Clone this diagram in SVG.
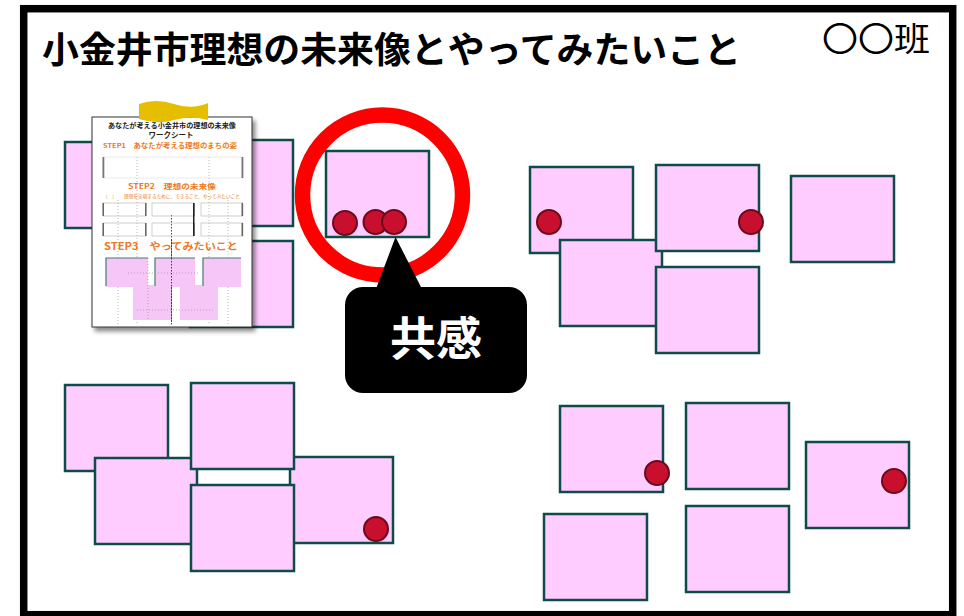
<svg xmlns="http://www.w3.org/2000/svg" width="964" height="616" viewBox="0 0 964 616">
<style>
.note{fill:#FFCCFF;stroke:#0F4B48;stroke-width:2.5}
.dot{fill:#C8102E;stroke:#6A0A1A;stroke-width:2}
.jp{font-family:"Noto Sans CJK JP","Noto Sans",sans-serif}
.or{fill:#F07820}
.grid{stroke:#9a9a9a;stroke-width:0.7;stroke-dasharray:1 2;fill:none}
.pk{fill:#F6C6F6}
</style>
<defs>
<filter id="sh" x="-10%" y="-10%" width="130%" height="130%">
<feDropShadow dx="3" dy="4" stdDeviation="2.2" flood-color="#000" flood-opacity="0.45"/>
</filter>
</defs>
<rect width="964" height="616" fill="#fff"/>
<rect id="frame" x="23.7" y="8.7" width="929" height="606" fill="none" stroke="#000" stroke-width="7.5"/>
<g id="title">
<text class="jp" x="42" y="63" font-size="36.5" font-weight="bold" fill="#000" textLength="699" lengthAdjust="spacingAndGlyphs">小金井市理想の未来像とやってみたいこと</text>
</g>
<g id="group-name">
<text class="jp" x="822" y="51" font-size="33" fill="#000" textLength="108" lengthAdjust="spacingAndGlyphs">〇〇班</text>
</g>

<g id="cluster-topleft">
<g id="note-q"><rect class="note" x="65" y="142" width="103" height="86"/></g>
<g id="note-r"><rect class="note" x="190" y="140" width="103" height="86"/></g>
<g id="note-s"><rect class="note" x="190" y="241" width="103" height="86"/></g>
</g>

<g id="worksheet">
<rect x="92" y="117" width="160" height="210" fill="#fff" stroke="#333" stroke-width="1" filter="url(#sh)"/>
<path class="grid" d="M137,157V325 M209,157V325 M118,200V325 M228,200V325"/>
<path d="M171.5,215V325" stroke="#333" stroke-width="0.9" stroke-dasharray="1.5 1.5" fill="none"/>
<text class="jp" x="172" y="128" font-size="6.5" font-weight="bold" fill="#222" text-anchor="middle" textLength="128" lengthAdjust="spacingAndGlyphs">あなたが考える小金井市の理想の未来像</text>
<text class="jp" x="171" y="138" font-size="7.5" font-weight="bold" fill="#222" text-anchor="middle">ワークシート</text>
<text class="jp or" x="103" y="148" font-size="6.3" font-weight="bold" textLength="134" lengthAdjust="spacingAndGlyphs">STEP1　あなたが考える理想のまちの姿</text>
<rect x="103" y="157" width="140" height="21" fill="none" stroke="#ddd" stroke-width="0.6"/>
<rect x="102.5" y="157" width="1.8" height="21" fill="#777"/>
<rect x="241.5" y="157" width="1.8" height="21" fill="#777"/>
<text class="jp or" x="172" y="189" font-size="7" font-weight="bold" text-anchor="middle" textLength="88" lengthAdjust="spacingAndGlyphs">STEP2　理想の未来像</text>
<text class="jp or" x="103" y="198" font-size="4.5" textLength="137" lengthAdjust="spacingAndGlyphs">（　）　　理想を実現するために、できること、やってみたいこと</text>
<g fill="none" stroke="#bbb" stroke-width="0.7">
<rect x="103" y="203" width="43" height="13"/><rect x="152" y="203" width="42" height="13"/><rect x="201" y="203" width="42" height="13"/>
<rect x="103" y="223" width="43" height="13"/><rect x="152" y="223" width="42" height="13"/><rect x="201" y="223" width="42" height="13"/>
</g>
<g fill="#666">
<rect x="102.5" y="203" width="1.5" height="13"/><rect x="145" y="203" width="1.5" height="13"/><rect x="193" y="203" width="1.5" height="13"/><rect x="241.5" y="203" width="1.5" height="13"/>
<rect x="102.5" y="223" width="1.5" height="13"/><rect x="145" y="223" width="1.5" height="13"/><rect x="193" y="223" width="1.5" height="13"/><rect x="241.5" y="223" width="1.5" height="13"/>
<rect x="193" y="203" width="1.5" height="33" fill="#222"/>
</g>
<text class="jp or" x="104" y="250" font-size="10" font-weight="bold" textLength="134" lengthAdjust="spacingAndGlyphs">STEP3　やってみたいこと</text>
<g class="pk">
<rect x="106" y="258" width="42" height="29"/>
<rect x="155" y="258" width="40" height="29"/>
<rect x="203" y="258" width="38" height="29"/>
<rect x="133" y="285" width="38" height="35"/>
<rect x="180" y="285" width="38" height="35"/>
</g>
<path d="M106,286V258H148 M155,286V258H195 M203,286V258H241" fill="none" stroke="#3E7C78" stroke-width="1.2"/>
<path class="grid" d="M128,273H200 M137,310H215 M148,258V320"/>
<path d="M171.5,240V322" stroke="#333" stroke-width="0.9" stroke-dasharray="1.5 1.5" fill="none"/>
</g>
<g id="tape">
<path d="M139,104 Q156,98 174,104 T208,103 L208,120 Q191,115 174,120 T139,119 Z" fill="#E6BE00"/>
</g>

<g id="note-p">
<rect class="note" x="326" y="151" width="103" height="86"/>
<circle class="dot" cx="345" cy="223" r="12"/>
<circle class="dot" cx="375.5" cy="222" r="12"/>
<circle class="dot" cx="394" cy="222" r="12"/>
</g>
<g id="highlight">
<circle cx="382.5" cy="195" r="80" fill="none" stroke="#FF0000" stroke-width="15.5"/>
</g>
<g id="callout">
<rect x="345" y="287" width="182" height="106" rx="18" fill="#000"/>
<polygon points="376,289 395.5,237 422,289" fill="#000"/>
<text class="jp" x="436" y="355" font-size="46" font-weight="bold" fill="#fff" text-anchor="middle">共感</text>
</g>

<g id="cluster-topright">
<g id="note-a"><rect class="note" x="530" y="167" width="103" height="86"/><circle class="dot" cx="549" cy="222" r="12"/></g>
<g id="note-d"><rect class="note" x="560" y="240" width="102" height="86"/></g>
<g id="note-b"><rect class="note" x="656" y="165" width="103" height="86"/><circle class="dot" cx="751" cy="222" r="12"/></g>
<g id="note-e"><rect class="note" x="656" y="267" width="103" height="86"/></g>
<g id="note-c"><rect class="note" x="791" y="176" width="103" height="86"/></g>
</g>

<g id="cluster-bottomleft">
<g id="note-f"><rect class="note" x="65" y="385" width="103" height="86"/></g>
<g id="note-h"><rect class="note" x="95" y="458" width="102" height="86"/></g>
<g id="note-i"><rect class="note" x="290" y="457" width="103" height="86"/><circle class="dot" cx="376" cy="529" r="12"/></g>
<g id="note-g"><rect class="note" x="191" y="383" width="103" height="86"/></g>
<g id="note-j"><rect class="note" x="191" y="485" width="103" height="86"/></g>
</g>

<g id="cluster-bottomright">
<g id="note-k"><rect class="note" x="560" y="406" width="103" height="86"/><circle class="dot" cx="657" cy="473" r="12"/></g>
<g id="note-l"><rect class="note" x="686" y="403" width="103" height="86"/></g>
<g id="note-m"><rect class="note" x="806" y="442" width="103" height="86"/><circle class="dot" cx="894" cy="481" r="12"/></g>
<g id="note-n"><rect class="note" x="544" y="514" width="103" height="86"/></g>
<g id="note-o"><rect class="note" x="686" y="506" width="103" height="86"/></g>
</g>
<g id="connectors"/>
</svg>
